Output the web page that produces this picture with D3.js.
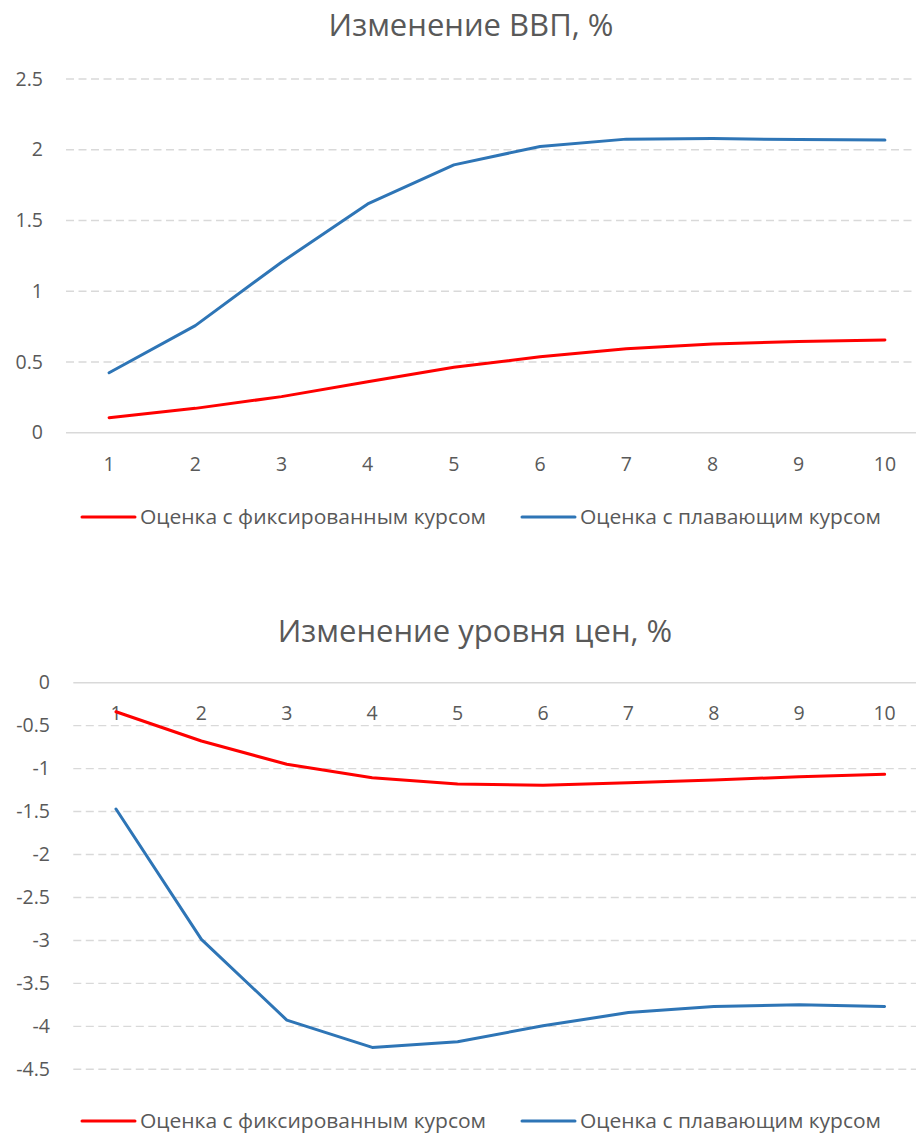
<!DOCTYPE html>
<html>
<head>
<meta charset="utf-8">
<script src="https://cdn.jsdelivr.net/npm/d3@7"></script>
<style>
  html, body { margin: 0; padding: 0; background: #fff; }
  text { font-family: "Open Sans", "Noto Sans", sans-serif; fill: #595959; }
</style>
</head>
<body>
<svg id="chart" width="916" height="1135"></svg>
<script>
// Periods on the horizontal axis
const categories = [1, 2, 3, 4, 5, 6, 7, 8, 9, 10];

// GDP change, %
const gdpFixed = [0.106, 0.172, 0.255, 0.36, 0.462, 0.537, 0.594, 0.627, 0.644, 0.656];
const gdpFloat = [0.424, 0.757, 1.205, 1.617, 1.893, 2.023, 2.075, 2.079, 2.072, 2.068];

// Price level change, %
const priceFixed = [-0.338, -0.679, -0.95, -1.106, -1.179, -1.195, -1.164, -1.133, -1.094, -1.067];
const priceFloat = [-1.47, -2.987, -3.927, -4.245, -4.18, -3.993, -3.84, -3.77, -3.748, -3.77];

// Value axis ticks
const gdpTicks = [0, 0.5, 1, 1.5, 2, 2.5];
const priceTicks = [0, -0.5, -1, -1.5, -2, -2.5, -3, -3.5, -4, -4.5];

// Titles and series names
const titles = ["Изменение ВВП, %", "Изменение уровня цен, %"];
const seriesNames = ["Оценка с фиксированным курсом", "Оценка с плавающим курсом"];
const seriesColors = ["#ff0000", "#2e75b6"];

const fmt = d3.formatLocale({ decimal: ".", thousands: ",", grouping: [3], currency: ["", ""], minus: "-" }).format("~g");

const svg = d3.select("#chart");

function drawPanel(cfg) {
  const g = svg.append("g");

  const x = d3.scaleBand().domain(categories).range([cfg.left, cfg.right]);
  const y = d3.scaleLinear().domain(cfg.yDomain).range(cfg.yRange);
  const cx = d => x(d) + x.bandwidth() / 2;

  // Title
  g.append("text")
    .attr("x", cfg.titleX)
    .attr("y", cfg.titleY)
    .attr("text-anchor", "middle")
    .style("font-size", "31px")
    .text(cfg.title);

  // Dashed gridlines (all but zero)
  g.append("g")
    .selectAll("line")
    .data(cfg.ticks.filter(t => t !== 0))
    .join("line")
    .attr("x1", cfg.left)
    .attr("x2", 916)
    .attr("y1", d => y(d))
    .attr("y2", d => y(d))
    .attr("stroke", "#d9d9d9")
    .attr("stroke-width", 1.4)
    .attr("stroke-dasharray", "8,4.5");

  // Category axis line at zero
  g.append("line")
    .attr("x1", cfg.left)
    .attr("x2", 916)
    .attr("y1", y(0))
    .attr("y2", y(0))
    .attr("stroke", "#d9d9d9")
    .attr("stroke-width", 1.5);

  // Value axis labels
  const yAxis = d3.axisLeft(y).tickValues(cfg.ticks).tickFormat(fmt).tickSize(0).tickPadding(0);
  const ya = g.append("g").attr("transform", `translate(${cfg.yLabelX},0)`).call(yAxis);
  ya.select(".domain").remove();
  ya.selectAll("text")
    .style("font-size", "19.5px")
    .style("font-family", "'Open Sans', sans-serif")
    .attr("fill", "#595959");

  // Category labels
  const xAxis = d3.axisBottom(x).tickSize(0).tickPadding(0);
  const xa = g.append("g").attr("transform", `translate(0,${cfg.xLabelY})`).call(xAxis);
  xa.select(".domain").remove();
  xa.selectAll("text")
    .attr("dy", "0.35em")
    .attr("y", 0)
    .style("font-size", "19.5px")
    .style("font-family", "'Open Sans', sans-serif")
    .attr("fill", "#595959");

  // Series lines
  const line = d3.line().x((d, i) => cx(categories[i])).y(d => y(d));
  cfg.series.forEach((s, i) => {
    g.append("path")
      .datum(s)
      .attr("fill", "none")
      .attr("stroke", seriesColors[i])
      .attr("stroke-width", 3)
      .attr("stroke-linejoin", "round")
      .attr("stroke-linecap", "round")
      .attr("d", line);
  });

  // Legend
  const legend = g.append("g").attr("transform", `translate(0,${cfg.legendY})`);
  const items = [
    { x0: 82, x1: 135, tx: 140, tw: 346 },
    { x0: 522, x1: 575, tx: 580, tw: 301 }
  ];
  items.forEach((it, i) => {
    legend.append("line")
      .attr("x1", it.x0).attr("x2", it.x1)
      .attr("y1", 0).attr("y2", 0)
      .attr("stroke", seriesColors[i])
      .attr("stroke-width", 3)
      .attr("stroke-linecap", "round");
    legend.append("text")
      .attr("x", it.tx)
      .attr("y", 0)
      .attr("dy", "0.35em")
      .attr("textLength", it.tw)
      .attr("lengthAdjust", "spacingAndGlyphs")
      .style("font-size", "20px")
      .text(seriesNames[i]);
  });
}

drawPanel({
  title: titles[0], titleX: 471, titleY: 36,
  left: 66, right: 928,
  yDomain: [0, 2.5], yRange: [432.7, 79],
  ticks: gdpTicks, yLabelX: 43,
  xLabelY: 464,
  series: [gdpFixed, gdpFloat],
  legendY: 517
});

drawPanel({
  title: titles[1], titleX: 475, titleY: 642,
  left: 73.3, right: 927.3,
  yDomain: [-4.5, 0], yRange: [1069.3, 682.7],
  ticks: priceTicks, yLabelX: 50,
  xLabelY: 713,
  series: [priceFixed, priceFloat],
  legendY: 1121
});
</script>
</body>
</html>
